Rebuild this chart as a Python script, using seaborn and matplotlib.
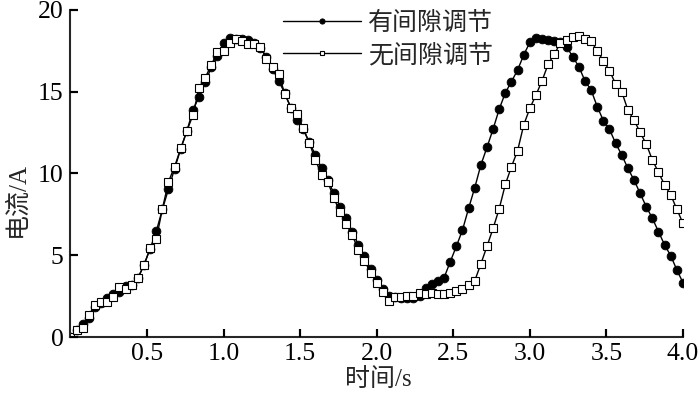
#!/usr/bin/env python3
"""Current vs time, with and without gap adjustment."""

import matplotlib

matplotlib.use("Agg")
import matplotlib.pyplot as plt
import pandas as pd
import seaborn as sns

TIME = [
    0.00, 0.04, 0.08, 0.12, 0.16, 0.20, 0.24, 0.28, 0.32, 0.36,
    0.40, 0.44, 0.48, 0.52, 0.56, 0.60, 0.64, 0.68, 0.72, 0.76,
    0.80, 0.84, 0.88, 0.92, 0.96, 1.00, 1.04, 1.08, 1.12, 1.16,
    1.20, 1.24, 1.28, 1.32, 1.36, 1.40, 1.44, 1.48, 1.52, 1.56,
    1.60, 1.64, 1.68, 1.72, 1.76, 1.80, 1.84, 1.88, 1.92, 1.96,
    2.00, 2.04, 2.08, 2.12, 2.16, 2.20, 2.24, 2.28, 2.32, 2.36,
    2.40, 2.44, 2.48, 2.52, 2.56, 2.60, 2.64, 2.68, 2.72, 2.76,
    2.80, 2.84, 2.88, 2.92, 2.96, 3.00, 3.04, 3.08, 3.12, 3.16,
    3.20, 3.24, 3.28, 3.32, 3.36, 3.40, 3.44, 3.48, 3.52, 3.56,
    3.60, 3.64, 3.68, 3.72, 3.76, 3.80, 3.84, 3.88, 3.92, 3.96,
    4.00,
]

# 有间隙调节 (filled circles)
WITH_GAP = [
    0.00, 0.45, 0.78, 1.14, 1.85, 2.05, 2.37, 2.60, 2.77, 3.10,
    3.20, 3.60, 4.40, 5.40, 6.46, 7.80, 9.05, 10.30, 11.50, 12.60,
    13.88, 14.70, 15.58, 16.50, 17.20, 17.96, 18.27, 18.25, 18.20, 18.17,
    18.00, 17.70, 17.14, 16.40, 15.66, 14.90, 14.00, 13.27, 12.70, 11.90,
    11.13, 10.32, 9.60, 8.79, 7.97, 7.26, 6.44, 5.63, 4.95, 4.14,
    3.50, 2.92, 2.50, 2.45, 2.40, 2.37, 2.37, 2.50, 2.98, 3.22,
    3.42, 3.63, 4.60, 5.55, 6.54, 7.87, 9.13, 10.52, 11.60, 12.72,
    13.94, 14.94, 15.62, 16.33, 17.25, 18.02, 18.27, 18.20, 18.17, 18.12,
    18.05, 17.75, 17.14, 16.53, 15.66, 15.10, 14.09, 13.23, 12.70, 11.85,
    11.13, 10.32, 9.60, 8.79, 7.97, 7.26, 6.44, 5.63, 4.97, 4.10,
    3.32,
]

# 无间隙调节 (open squares)
NO_GAP = [
    0.00, 0.43, 0.57, 1.35, 1.96, 2.16, 2.12, 2.47, 3.04, 2.92,
    3.18, 3.59, 4.40, 5.42, 5.97, 7.83, 9.50, 10.42, 11.54, 12.60,
    13.58, 15.25, 15.86, 16.64, 17.45, 17.49, 17.96, 18.20, 18.12, 17.90,
    17.90, 17.76, 17.00, 16.50, 16.10, 14.84, 14.02, 13.62, 12.76, 11.85,
    10.83, 9.90, 9.50, 8.48, 7.66, 6.91, 6.24, 5.32, 4.67, 3.93,
    3.32, 2.73, 2.20, 2.46, 2.46, 2.53, 2.53, 2.71, 2.63, 2.67,
    2.63, 2.63, 2.71, 2.80, 2.92, 3.18, 3.44, 4.47, 5.55, 6.65,
    7.85, 9.34, 10.42, 11.40, 12.97, 13.99, 14.80, 15.68, 16.70, 17.29,
    18.00, 18.17, 18.33, 18.41, 18.23, 18.10, 17.49, 16.90, 16.29, 15.47,
    15.00, 13.88, 13.27, 12.52, 11.80, 10.83, 10.07, 9.30, 8.69, 7.81,
    6.95,
]

LABELS = ["有间隙调节", "无间隙调节"]
X_TICKS = [0.5, 1.0, 1.5, 2.0, 2.5, 3.0, 3.5, 4.0]
Y_TICKS = [0, 5, 10, 15, 20]

FONTS = ["Liberation Serif", "Noto Sans CJK SC", "DejaVu Sans"]


def main() -> None:
    sns.set_theme(style="ticks")
    plt.rcParams.update(
        {
            "font.family": FONTS,
            "axes.unicode_minus": False,
            "axes.linewidth": 1.5,
        }
    )

    df = pd.DataFrame({"t": TIME, "a": WITH_GAP, "b": NO_GAP})

    fig = plt.figure(figsize=(7.0, 3.95), dpi=100)
    ax = fig.add_axes([0.1007, 0.1468, 0.875, 0.828])

    sns.lineplot(
        data=df, x="t", y="a", ax=ax, color="black", linewidth=1.0,
        marker="o", markersize=6.3, markerfacecolor="black",
        markeredgecolor="black", markeredgewidth=0.6, label=LABELS[0],
    )
    sns.lineplot(
        data=df, x="t", y="b", ax=ax, color="black", linewidth=1.0,
        marker="s", markersize=5.6, markerfacecolor="white",
        markeredgecolor="black", markeredgewidth=0.8, label=LABELS[1],
    )

    ax.set_xlim(0, 4.0)
    ax.set_ylim(0, 20)
    ax.set_xticks(X_TICKS)
    ax.set_xticklabels([f"{v:.1f}" for v in X_TICKS])
    ax.set_yticks(Y_TICKS)
    ax.set_yticklabels([str(v) for v in Y_TICKS])
    sns.despine(ax=ax)
    ax.tick_params(
        axis="both", which="major", direction="in", length=6, width=1.5,
        labelsize=18.5, colors="black",
    )
    ax.tick_params(axis="y", pad=5)
    ax.tick_params(axis="x", pad=4)

    # inward tick marks, drawn as short strokes at the tick positions
    ax.vlines(X_TICKS, 0, 0.025, transform=ax.get_xaxis_transform(),
              colors="black", linewidth=1.5, clip_on=False, zorder=3)
    ax.hlines(Y_TICKS, 0, 0.013, transform=ax.get_yaxis_transform(),
              colors="black", linewidth=1.5, clip_on=False, zorder=3)

    ax.set_xlabel("时间/s", fontsize=18, va="top")
    ax.xaxis.set_label_coords(0.502, -0.095)
    ax.set_ylabel("电流/A", fontsize=18, va="center")
    ax.yaxis.set_label_coords(-0.087, 0.42)

    ax.legend(
        loc="upper left", bbox_to_anchor=(0.347, 0.995), frameon=False,
        fontsize=18, handlelength=3.1, handletextpad=0.3, labelspacing=0.35,
        borderpad=0, borderaxespad=0, markerscale=0.6,
    )

    fig.savefig("out.png", dpi=100, facecolor="white")
    plt.close(fig)


if __name__ == "__main__":
    main()
